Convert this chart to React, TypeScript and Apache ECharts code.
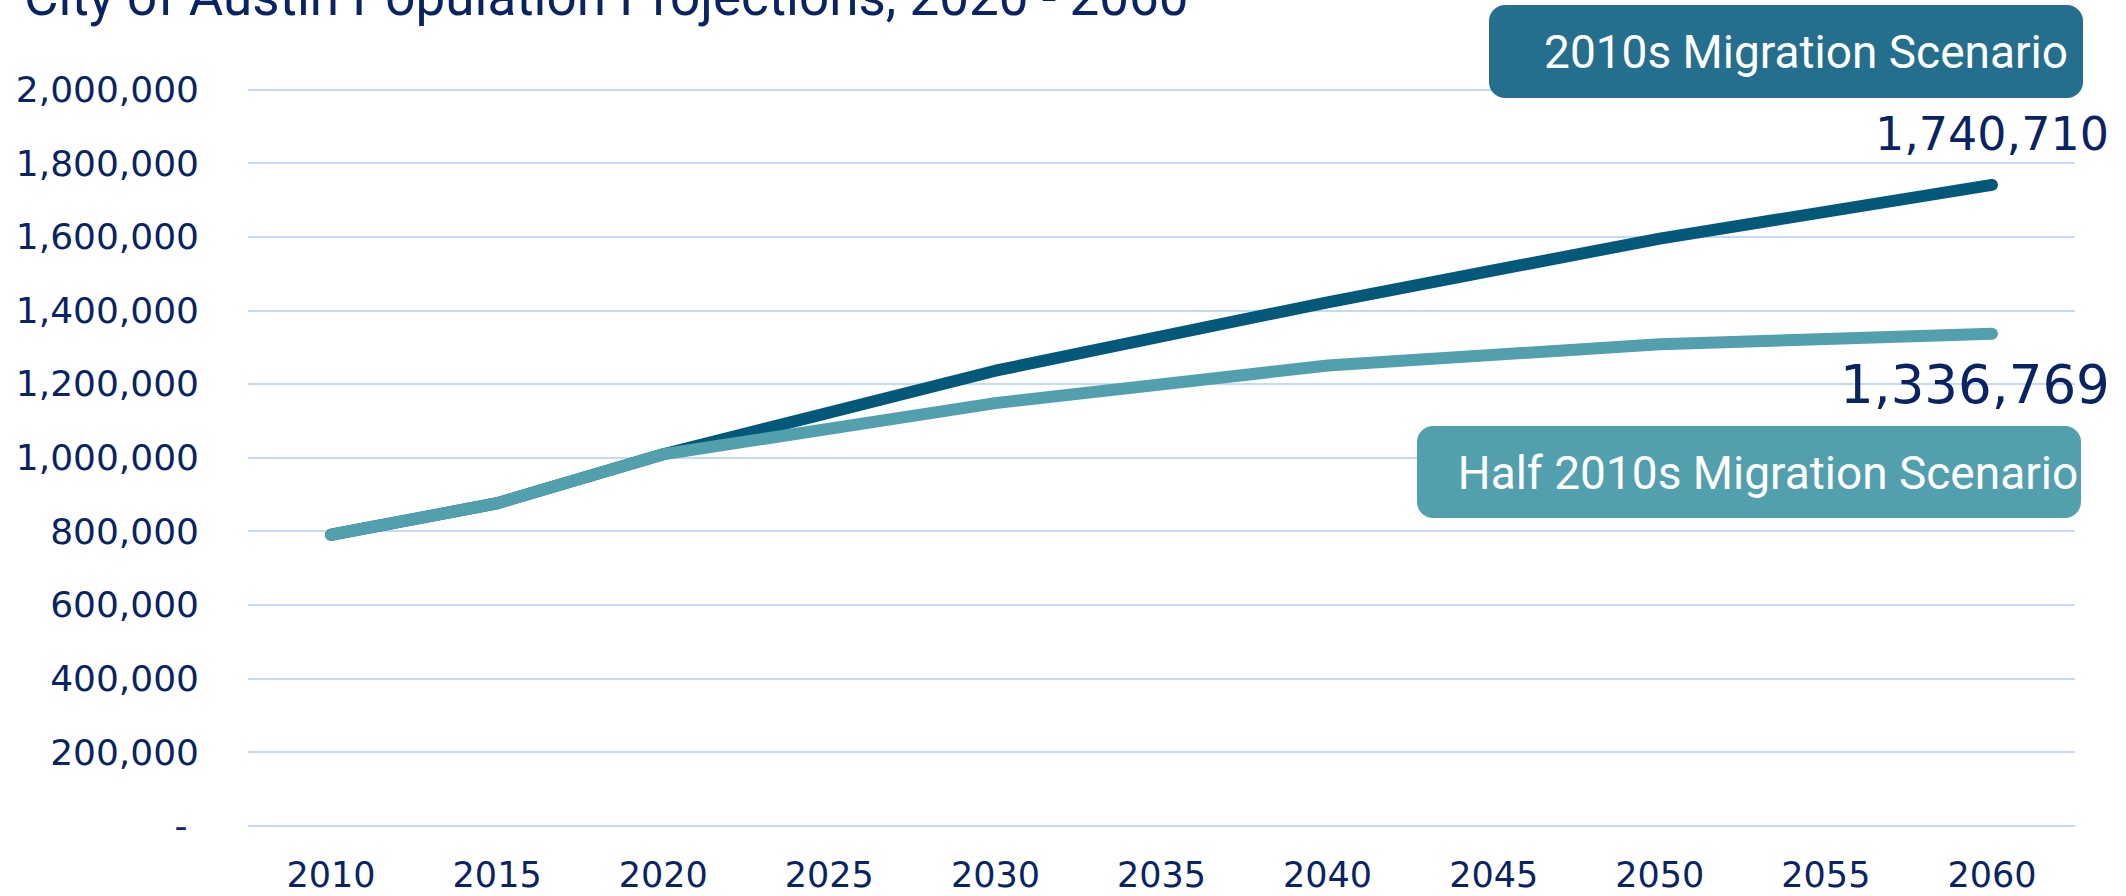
import React, { useEffect, useRef } from "react";
import * as echarts from "echarts";

const years = ["2010", "2015", "2020", "2025", "2030", "2035", "2040", "2045", "2050", "2055", "2060"];
const fullMigration = [790390, 876000, 1009000, null, 1236000, null, 1422000, null, 1595000, null, 1740710];
const halfMigration = [790390, 876000, 1009000, null, 1148000, null, 1250000, null, 1308000, null, 1336769];
const yTicks = { min: 0, max: 2000000, interval: 200000 };
const titleText = "City of Austin Population Projections, 2020 - 2060";
const fullName = "2010s Migration Scenario";
const halfName = "Half 2010s Migration Scenario";

const NAVY = "#0a2463";
const DARK = "#04587a";
const LIGHT = "#529fae";

const fmt = (v: number) => v.toLocaleString("en-US");

export default function App() {
  const ref = useRef<HTMLDivElement>(null);
  useEffect(() => {
    if (!ref.current) return;
    const chart = echarts.init(ref.current, undefined, { renderer: "svg" });
    const lastIdx = years.length - 1;
    const labelFor = (
      arr: (number | null)[],
      pos: "top" | "bottom",
      dist: number,
      offset: number[],
      size: number
    ) =>
      arr.map((v, i) =>
        i === lastIdx
          ? {
              value: v,
              label: {
                show: true,
                position: pos,
                distance: dist,
                offset,
                formatter: () => fmt(v as number),
                color: NAVY,
                fontSize: size,
                fontFamily: "DejaVu Sans",
              },
            }
          : v
      );
    chart.setOption({
      animation: false,
      grid: { left: 248, right: 51, top: 89.5, bottom: 70.3, containLabel: false },
      xAxis: {
        type: "category",
        data: years,
        boundaryGap: true,
        axisLine: { show: false },
        axisTick: { show: false },
        axisLabel: { color: NAVY, fontSize: 35, fontFamily: "DejaVu Sans", margin: 32 },
      },
      yAxis: {
        type: "value",
        min: yTicks.min,
        max: yTicks.max,
        interval: yTicks.interval,
        axisLine: { show: false },
        axisTick: { show: false },
        splitLine: { lineStyle: { color: "#c6d9f7", width: 2 } },
        axisLabel: {
          color: NAVY,
          fontSize: 36,
          fontFamily: "DejaVu Sans",
          margin: 49,
          formatter: (v: number) => (v === 0 ? "-\u00a0" : fmt(v)),
        },
      },
      series: [
        {
          name: fullName,
          type: "line",
          data: labelFor(fullMigration, "top", 27, [0, 0], 46),
          connectNulls: true,
          showSymbol: true,
          symbol: "circle",
          symbolSize: 2,
          lineStyle: { color: DARK, width: 12, cap: "round", join: "round" },
          itemStyle: { color: DARK },
          z: 2,
        },
        {
          name: halfName,
          type: "line",
          data: labelFor(halfMigration, "bottom", 23, [-17, 0], 53),
          connectNulls: true,
          showSymbol: true,
          symbol: "circle",
          symbolSize: 2,
          lineStyle: { color: LIGHT, width: 12, cap: "round", join: "round" },
          itemStyle: { color: LIGHT },
          z: 3,
        },
      ],
      graphic: [
        {
          type: "text",
          left: 24,
          top: -30,
          z: 100,
          style: {
            text: titleText,
            fill: NAVY,
            fontSize: 53,
            fontFamily: "Roboto",
          },
        },
        {
          type: "group",
          left: 1489,
          top: 5,
          z: 100,
          children: [
            {
              type: "rect",
              z: 100,
              shape: { x: 0, y: 0, width: 594, height: 93, r: 16 },
              style: { fill: "#256f8e" },
            },
            {
              type: "text",
              z: 101,
              x: 317,
              y: 47,
              style: {
                text: fullName,
                fill: "#ffffff",
                fontSize: 46,
                fontFamily: "Roboto",
                align: "center",
                verticalAlign: "middle",
              },
            },
          ],
        },
        {
          type: "group",
          left: 1417,
          top: 426,
          z: 100,
          children: [
            {
              type: "rect",
              z: 100,
              shape: { x: 0, y: 0, width: 664, height: 92, r: 16 },
              style: { fill: "#529fae" },
            },
            {
              type: "text",
              z: 101,
              x: 351,
              y: 47,
              style: {
                text: halfName,
                fill: "#ffffff",
                fontSize: 46,
                fontFamily: "Roboto",
                align: "center",
                verticalAlign: "middle",
              },
            },
          ],
        },
      ],
    });
    return () => chart.dispose();
  }, []);
  return (
    <div
      ref={ref}
      style={{ position: "absolute", left: 0, top: 0, width: 2126, height: 896, background: "#ffffff" }}
    />
  );
}
